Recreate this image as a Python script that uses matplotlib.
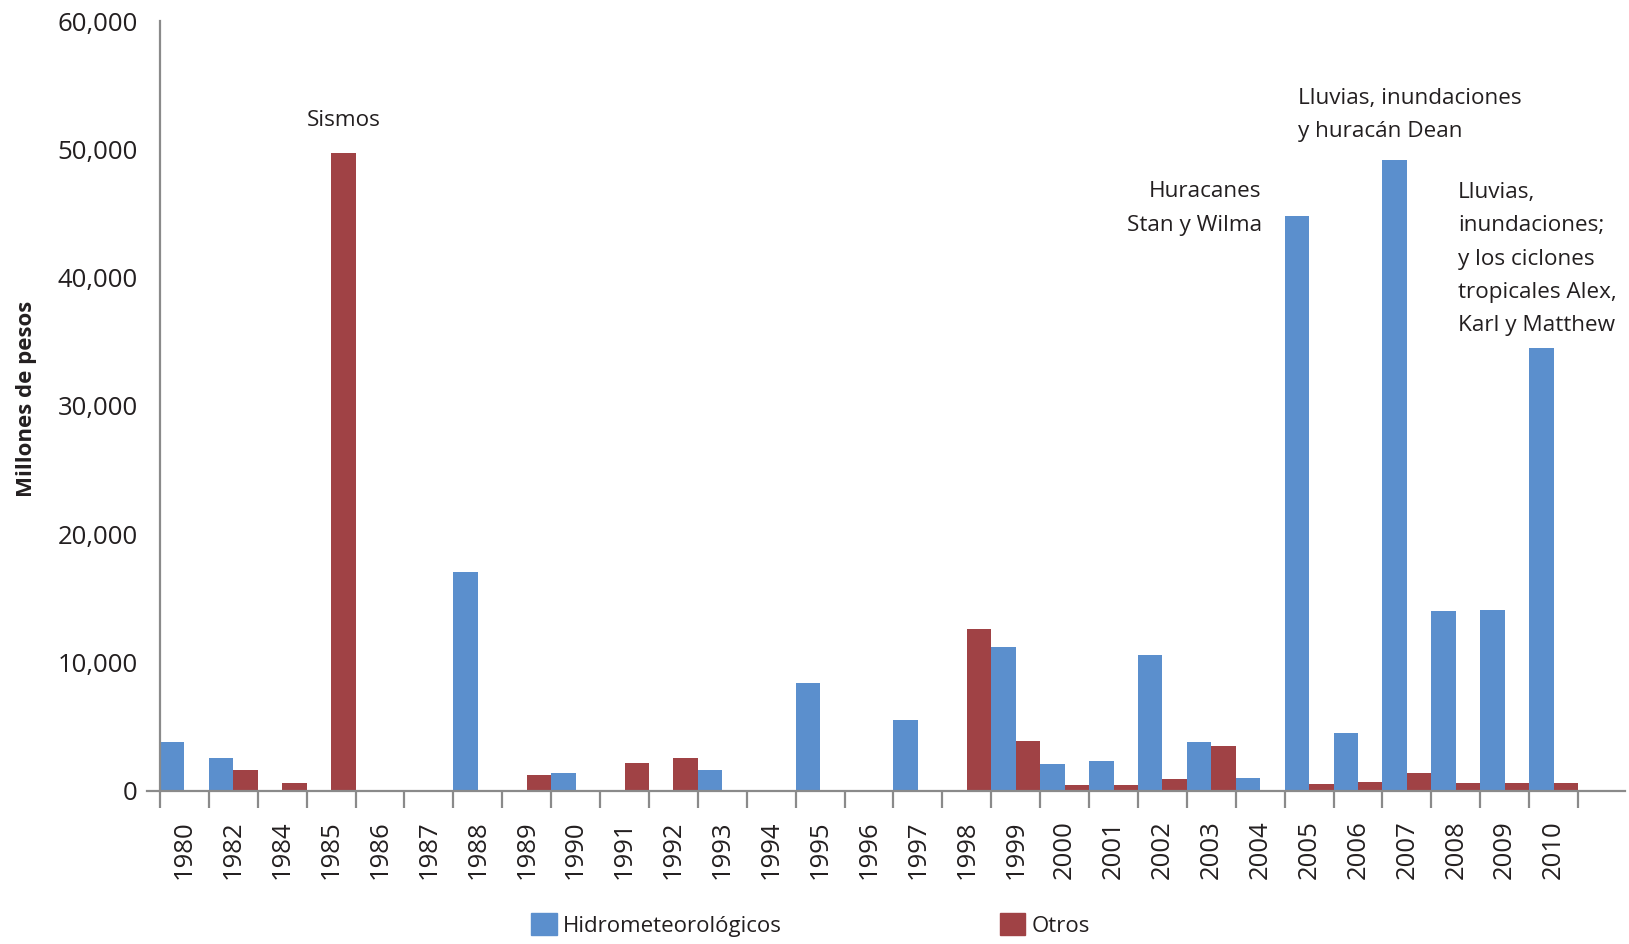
import matplotlib.pyplot as plt
import numpy as np
from matplotlib.patches import Patch
from matplotlib.ticker import FuncFormatter, FixedLocator

plt.rcParams['font.family'] = ['Open Sans', 'DejaVu Sans']

# datos (millones de pesos)
years = ['1980', '1982', '1984', '1985', '1986', '1987', '1988', '1989', '1990', '1991',
         '1992', '1993', '1994', '1995', '1996', '1997', '1998', '1999', '2000', '2001',
         '2002', '2003', '2004', '2005', '2006', '2007', '2008', '2009', '2010']
hidro = [3850, 2600, 0, 0, 0, 0, 17100, 0, 1400, 0,
         0, 1650, 0, 8450, 0, 5500, 0, 11200, 2100, 2350,
         10600, 3800, 1000, 44800, 4500, 49200, 14000, 14100, 34500]
otros = [0, 1650, 600, 49750, 0, 0, 0, 1250, 0, 2150,
         2600, 0, 0, 0, 0, 0, 12600, 3900, 450, 450,
         950, 3500, 0, 550, 700, 1400, 600, 600, 600]

blue = '#5B8FCD'
red = '#A04245'
txt = '#231F20'
grey = '#8A8A8A'

W, H = 1629, 944
fig = plt.figure(figsize=(W / 100, H / 100), dpi=100)
ax = fig.add_axes([147 / W, 1 - 791 / H, (1625 - 147) / W, (791 - 21) / H])

x = np.arange(len(years))
ax.bar(x - 0.25, hidro, width=0.5, color=blue)
ax.bar(x + 0.25, otros, width=0.5, color=red)

ax.set_xlim(-0.766, len(years) + 0.46)
ax.set_ylim(0, 60000)

for s in ['top', 'right']:
    ax.spines[s].set_visible(False)
ax.spines['left'].set_position(('data', -0.5))
ax.spines['left'].set_bounds(0, 60000)
for s in ['left', 'bottom']:
    ax.spines[s].set_color(grey)
    ax.spines[s].set_linewidth(1.6)

ax.set_yticks(np.arange(0, 60001, 10000))
ax.yaxis.set_major_formatter(FuncFormatter(lambda v, p: f'{int(v):,}'))
ax.tick_params(axis='y', length=0, pad=16, labelsize=18.5, labelcolor=txt)

ax.set_xticks(x)
ax.set_xticklabels(years, rotation=90)
ax.xaxis.set_minor_locator(FixedLocator(np.arange(-0.5, len(years), 1.0)))
ax.tick_params(axis='x', which='major', length=0, pad=21, labelsize=18.5, labelcolor=txt)
ax.tick_params(axis='x', which='minor', length=12, width=1.6, color=grey)

fig.text(27 / W, 1 - 399 / H, 'Millones de pesos', rotation=90, ha='center', va='center',
         fontsize=16, fontweight='bold', color=txt)

# anotaciones
fs = 16.2
ls = 1.77
ax.text(3.25, otros[3] + 2500, 'Sismos', ha='center', va='center', fontsize=fs, color=txt)
ax.text(22.03, 45400, 'Huracanes\nStan y Wilma', ha='right', va='center', fontsize=fs,
        color=txt, linespacing=ls, multialignment='right')
ax.text(22.77, 52700, 'Lluvias, inundaciones\ny huracán Dean', ha='left', va='center',
        fontsize=fs, color=txt, linespacing=ls)
ax.text(26.04, 41450, 'Lluvias,\ninundaciones;\ny los ciclones\ntropicales Alex,\nKarl y Matthew',
        ha='left', va='center', fontsize=fs, color=txt, linespacing=ls)

handles = [Patch(color=blue, label='Hidrometeorológicos'), Patch(color=red, label='Otros')]
fig.legend(handles=handles, loc='center left', bbox_to_anchor=(531 / W, 1 - 925 / H),
           ncol=2, frameon=False, fontsize=16, handlelength=1.15, handleheight=1.15,
           handletextpad=0.3, columnspacing=9.8, borderpad=0, borderaxespad=0,
           labelcolor=txt)

fig.savefig('out.png', dpi=100)
